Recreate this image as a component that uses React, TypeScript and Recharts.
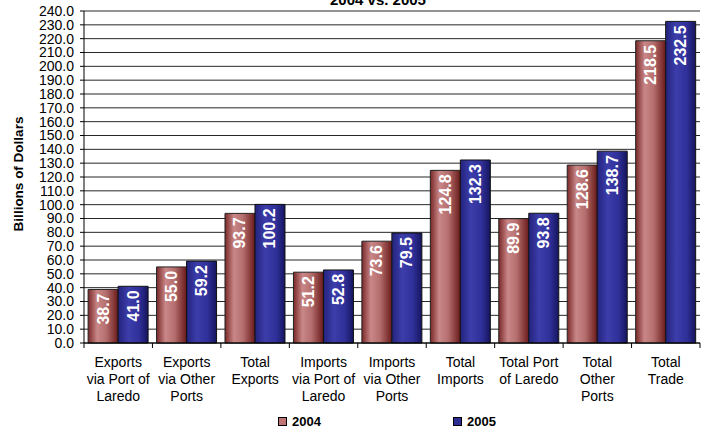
import React from "react";
import {
  BarChart,
  Bar,
  XAxis,
  YAxis,
  CartesianGrid,
  LabelList,
} from "recharts";

const categories = [
  "Exports\nvia Port of\nLaredo",
  "Exports\nvia Other\nPorts",
  "Total\nExports",
  "Imports\nvia Port of\nLaredo",
  "Imports\nvia Other\nPorts",
  "Total\nImports",
  "Total Port\nof Laredo",
  "Total\nOther\nPorts",
  "Total\nTrade",
];
const values2004 = [38.7, 55.0, 93.7, 51.2, 73.6, 124.8, 89.9, 128.6, 218.5];
const values2005 = [41.0, 59.2, 100.2, 52.8, 79.5, 132.3, 93.8, 138.7, 232.5];
const yTicks = [
  0, 10, 20, 30, 40, 50, 60, 70, 80, 90, 100, 110, 120, 130, 140, 150, 160,
  170, 180, 190, 200, 210, 220, 230, 240,
];

const data = categories.map((name, i) => ({
  name,
  y2004: values2004[i],
  y2005: values2005[i],
}));

const W = 704;
const H = 432;
const LEFT = 84;
const RIGHT = 4;
const BAND = (W - LEFT - RIGHT) / categories.length;
const FONT = '"Liberation Sans", Arial, sans-serif';

function CategoryTick(props: any) {
  const { x, y, payload, index } = props;
  const lines = String(payload.value).split("\n");
  return (
    <g>
      <line x1={x - BAND / 2} x2={x - BAND / 2} y1={y} y2={y + 5} stroke="#000" />
      {index === categories.length - 1 && (
        <line x1={x + BAND / 2} x2={x + BAND / 2} y1={y} y2={y + 5} stroke="#000" />
      )}
      <text x={x} y={y + 24} textAnchor="middle" fontSize={14} fontFamily={FONT} fill="#000">
        {lines.map((l, i) => (
          <tspan key={i} x={x} dy={i === 0 ? 0 : 17}>
            {l}
          </tspan>
        ))}
      </text>
    </g>
  );
}

function ValueLabel(props: any) {
  const { x, y, width, value } = props;
  const cx = x + width / 2;
  const ty = y + 4;
  return (
    <text
      x={cx}
      y={ty}
      transform={`rotate(-90 ${cx} ${ty})`}
      textAnchor="end"
      dominantBaseline="central"
      fontSize={16}
      fontWeight="bold"
      fontFamily={FONT}
      fill="#fff"
    >
      {value.toFixed(1)}
    </text>
  );
}

function AxisTitle() {
  return (
    <text
      x={18}
      y={174}
      transform="rotate(-90 18 174)"
      textAnchor="middle"
      dominantBaseline="central"
      fontSize={13.5}
      fontWeight="bold"
      fontFamily={FONT}
      fill="#000"
    >
      Billions of Dollars
    </text>
  );
}

function LegendItem({ left, color, label }: { left: number; color: string; label: string }) {
  return (
    <div
      style={{
        position: "absolute",
        left,
        top: 414,
        display: "flex",
        alignItems: "center",
        gap: 5,
        fontFamily: FONT,
        fontWeight: "bold",
        fontSize: 13,
      }}
    >
      <span
        style={{
          width: 7,
          height: 7,
          background: color,
          border: "1px solid #000",
          display: "inline-block",
        }}
      />
      <span>{label}</span>
    </div>
  );
}

export default function App() {
  return (
    <div style={{ position: "absolute", left: 0, top: 0, width: W, height: H, overflow: "hidden", background: "#fff" }}>
      <div
        style={{
          position: "absolute",
          left: 378,
          top: -8,
          transform: "translateX(-50%)",
          fontFamily: FONT,
          fontWeight: "bold",
          fontSize: 15,
          lineHeight: "15px",
          whiteSpace: "nowrap",
        }}
      >
        2004 vs. 2005
      </div>
      <BarChart
        width={W}
        height={H}
        data={data}
        margin={{ top: 11, right: RIGHT, left: 0, bottom: 0 }}
        barCategoryGap="6%"
        barGap={0}
      >
        <defs>
          <linearGradient id="red" x1="0" y1="0" x2="1" y2="0">
            <stop offset="0" stopColor="#7a2828" />
            <stop offset="0.3" stopColor="#c98787" />
            <stop offset="0.6" stopColor="#b56e6e" />
            <stop offset="1" stopColor="#6a1a1a" />
          </linearGradient>
          <linearGradient id="blue" x1="0" y1="0" x2="1" y2="0">
            <stop offset="0" stopColor="#23237d" />
            <stop offset="0.35" stopColor="#3d3dab" />
            <stop offset="0.7" stopColor="#30309a" />
            <stop offset="1" stopColor="#15155e" />
          </linearGradient>
        </defs>
        <CartesianGrid vertical={false} stroke="#000" strokeOpacity={0.85} />
        <XAxis
          dataKey="name"
          interval={0}
          height={89}
          tickLine={false}
          tickSize={0}
          tickMargin={0}
          axisLine={{ stroke: "#000" }}
          tick={<CategoryTick />}
        />
        <YAxis
          width={LEFT}
          domain={[0, 240]}
          ticks={yTicks}
          interval={0}
          tickSize={4}
          tickMargin={6}
          axisLine={{ stroke: "#000" }}
          tickLine={{ stroke: "#000" }}
          tick={{ fill: "#000", fontSize: 14, fontFamily: FONT }}
          tickFormatter={(v: number) => v.toFixed(1)}
          label={<AxisTitle />}
        />
        <YAxis
          yAxisId="frame"
          orientation="right"
          width={0}
          tick={false}
          tickLine={false}
          axisLine={{ stroke: "#000" }}
        />
        <Bar dataKey="y2004" fill="url(#red)" stroke="#222" isAnimationActive={false}>
          <LabelList dataKey="y2004" content={<ValueLabel />} />
        </Bar>
        <Bar dataKey="y2005" fill="url(#blue)" stroke="#111" isAnimationActive={false}>
          <LabelList dataKey="y2005" content={<ValueLabel />} />
        </Bar>
      </BarChart>
      <LegendItem left={278} color="#bf7575" label="2004" />
      <LegendItem left={453} color="#2c2c92" label="2005" />
    </div>
  );
}
